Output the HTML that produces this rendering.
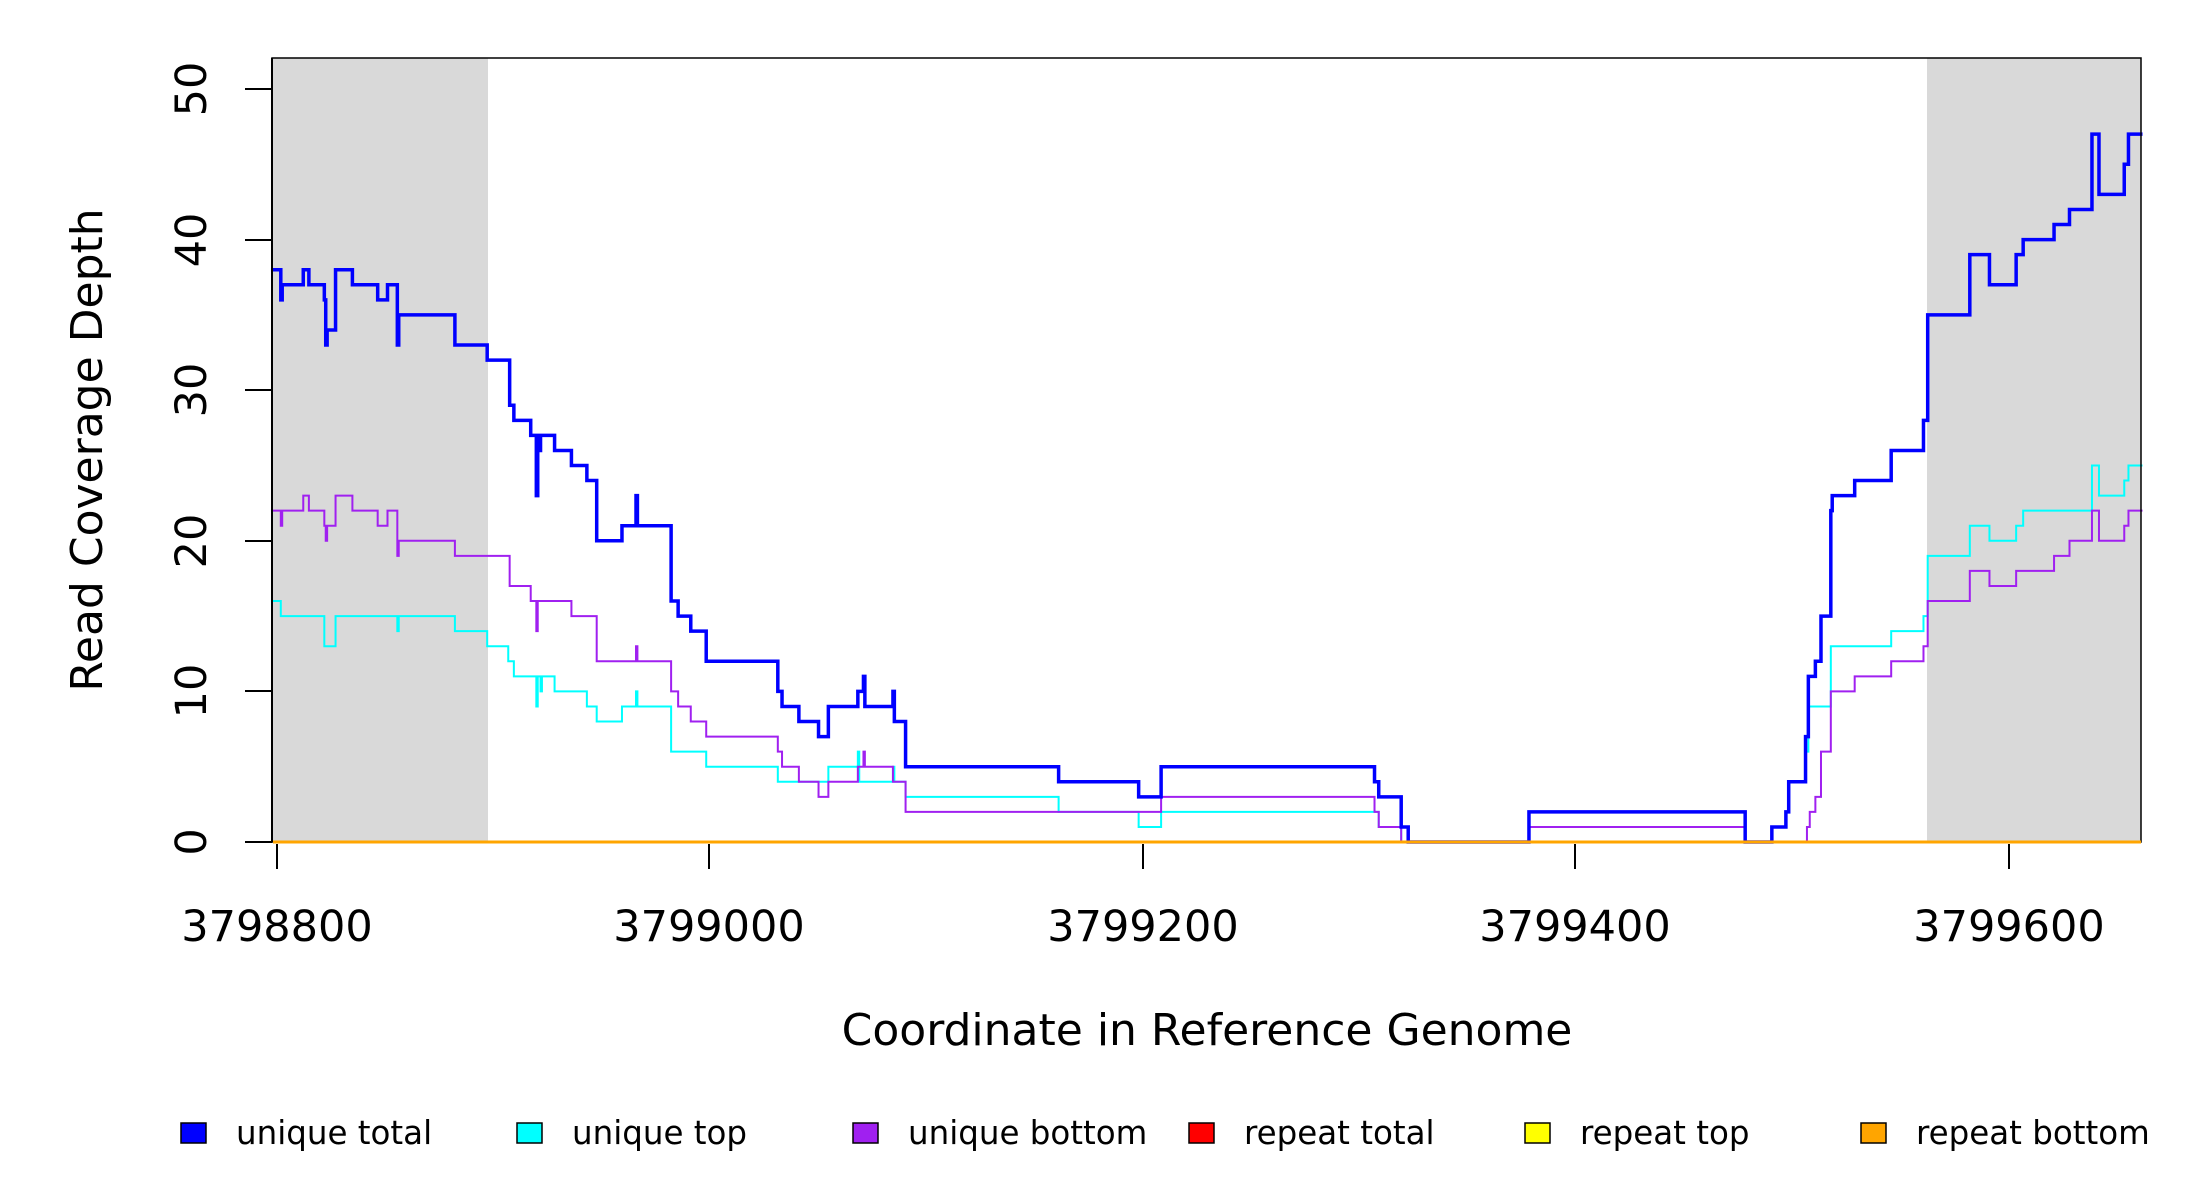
<!DOCTYPE html>
<html><head><meta charset="utf-8"><style>
html,body{margin:0;padding:0;background:#fff;}
svg{display:block;font-family:"DejaVu Sans","Liberation Sans",sans-serif;}
</style></head><body>
<svg width="2200" height="1200" viewBox="0 0 2200 1200" xmlns="http://www.w3.org/2000/svg">
<rect x="0" y="0" width="2200" height="1200" fill="#fff"/>
<rect x="272" y="58" width="216" height="784" fill="#d9d9d9"/>
<rect x="1927" y="58" width="214" height="784" fill="#d9d9d9"/>
<g transform="matrix(1.404,0,0,-15.06,0,842)" fill="none" stroke-linejoin="miter">
<polyline vector-effect="non-scaling-stroke" stroke="#00ffff" stroke-width="2" points="193,16 200,16 200,15 231,15 231,13 239,13 239,15 283,15 283,14 284,14 284,15 324,15 324,14 347,14 347,13 362,13 362,12 366,12 366,11 382,11 382,9 383,9 383,11 385,11 385,10 386,10 386,11 395,11 395,10 418,10 418,9 425,9 425,8 443,8 443,9 453,9 453,10 454,10 454,9 478,9 478,6 503,6 503,5 554,5 554,4 590,4 590,5 611,5 611,6 612,6 612,4 636,4 636,5 637,5 637,4 645,4 645,3 754,3 754,2 811,2 811,1 827,1 827,2 979,2 979,2 982,2 982,1 998,1 998,0 1262,0 1262,1 1272,1 1272,2 1274,2 1274,4 1286,4 1286,6 1288,6 1288,9 1304,9 1304,13 1347,13 1347,14 1370,14 1370,15 1373,15 1373,19 1403,19 1403,21 1417,21 1417,20 1436,20 1436,21 1441,21 1441,22 1490,22 1490,25 1495,25 1495,23 1513,23 1513,24 1516,24 1516,25 1526,25"/>
<polyline vector-effect="non-scaling-stroke" stroke="#a020f0" stroke-width="2" points="193,22 200,22 200,21 201,21 201,22 216,22 216,23 220,23 220,22 231,22 231,21 232,21 232,20 233,20 233,21 239,21 239,23 251,23 251,22 269,22 269,21 276,21 276,22 283,22 283,19 284,19 284,20 324,20 324,19 363,19 363,17 378,17 378,16 382,16 382,14 383,14 383,16 407,16 407,15 425,15 425,12 453,12 453,13 454,13 454,12 478,12 478,10 483,10 483,9 492,9 492,8 503,8 503,7 554,7 554,6 557,6 557,5 569,5 569,4 583,4 583,3 590,3 590,4 611,4 611,5 615,5 615,6 616,6 616,5 636,5 636,4 645,4 645,2 827,2 827,3 979,3 979,2 982,2 982,1 998,1 998,0 1089,0 1089,1 1243,1 1243,0 1287,0 1287,1 1289,1 1289,2 1293,2 1293,3 1297,3 1297,6 1304,6 1304,10 1321,10 1321,11 1347,11 1347,12 1370,12 1370,13 1373,13 1373,16 1403,16 1403,18 1417,18 1417,17 1436,17 1436,18 1463,18 1463,19 1474,19 1474,20 1490,20 1490,22 1495,22 1495,20 1513,20 1513,21 1516,21 1516,22 1526,22"/>
<polyline vector-effect="non-scaling-stroke" stroke="#0000ff" stroke-width="3.5" points="193,38 200,38 200,36 201,36 201,37 216,37 216,38 220,38 220,37 231,37 231,36 232,36 232,33 233,33 233,34 239,34 239,38 251,38 251,37 269,37 269,36 276,36 276,37 283,37 283,33 284,33 284,35 324,35 324,33 347,33 347,32 363,32 363,29 366,29 366,28 378,28 378,27 382,27 382,23 383,23 383,27 384,27 384,26 385,26 385,27 395,27 395,26 407,26 407,25 418,25 418,24 425,24 425,20 443,20 443,21 453,21 453,23 454,23 454,21 478,21 478,16 483,16 483,15 492,15 492,14 503,14 503,12 554,12 554,10 557,10 557,9 569,9 569,8 583,8 583,7 590,7 590,9 611,9 611,10 615,10 615,11 616,11 616,9 636,9 636,10 637,10 637,8 645,8 645,5 754,5 754,4 811,4 811,3 827,3 827,5 979,5 979,4 982,4 982,3 998,3 998,1 1003,1 1003,0 1089,0 1089,2 1243,2 1243,0 1262,0 1262,1 1272,1 1272,2 1274,2 1274,4 1286,4 1286,7 1288,7 1288,11 1293,11 1293,12 1297,12 1297,15 1304,15 1304,22 1305,22 1305,23 1321,23 1321,24 1347,24 1347,26 1370,26 1370,28 1373,28 1373,35 1403,35 1403,39 1417,39 1417,37 1436,37 1436,39 1441,39 1441,40 1463,40 1463,41 1474,41 1474,42 1490,42 1490,47 1495,47 1495,43 1513,43 1513,45 1516,45 1516,47 1526,47"/>
</g>
<rect x="272" y="58" width="1869" height="784" fill="none" stroke="#000" stroke-width="1.5"/>
<line x1="273" y1="842" x2="2141" y2="842" stroke="#ffa500" stroke-width="3"/>
<g stroke="#000" stroke-width="2">
<line x1="272" y1="58" x2="272" y2="842"/>
<line x1="245" y1="842" x2="272" y2="842"/><line x1="245" y1="691" x2="272" y2="691"/><line x1="245" y1="541" x2="272" y2="541"/><line x1="245" y1="390" x2="272" y2="390"/><line x1="245" y1="240" x2="272" y2="240"/><line x1="245" y1="89" x2="272" y2="89"/>
<line x1="277" y1="844" x2="277" y2="869"/><line x1="709" y1="844" x2="709" y2="869"/><line x1="1143" y1="844" x2="1143" y2="869"/><line x1="1575" y1="844" x2="1575" y2="869"/><line x1="2009" y1="844" x2="2009" y2="869"/>
</g>
<g font-size="43" text-anchor="middle" fill="#000">
<text transform="translate(206,842) rotate(-90)">0</text>
<text transform="translate(206,691) rotate(-90)">10</text>
<text transform="translate(206,541) rotate(-90)">20</text>
<text transform="translate(206,390) rotate(-90)">30</text>
<text transform="translate(206,240) rotate(-90)">40</text>
<text transform="translate(206,89) rotate(-90)">50</text>
<text x="277" y="941">3798800</text>
<text x="709" y="941">3799000</text>
<text x="1143" y="941">3799200</text>
<text x="1575" y="941">3799400</text>
<text x="2009" y="941">3799600</text>
<text x="1207" y="1045" font-size="44">Coordinate in Reference Genome</text>
<text transform="translate(102,450) rotate(-90)" font-size="44">Read Coverage Depth</text>
</g>
<g font-size="32.5" fill="#000" stroke="none">
<rect x="181" y="1123" width="25" height="20" fill="#0000ff" stroke="#000" stroke-width="1.5"/>
<text x="236" y="1144">unique total</text>
<rect x="517" y="1123" width="25" height="20" fill="#00ffff" stroke="#000" stroke-width="1.5"/>
<text x="572" y="1144">unique top</text>
<rect x="853" y="1123" width="25" height="20" fill="#a020f0" stroke="#000" stroke-width="1.5"/>
<text x="908" y="1144">unique bottom</text>
<rect x="1189" y="1123" width="25" height="20" fill="#ff0000" stroke="#000" stroke-width="1.5"/>
<text x="1244" y="1144">repeat total</text>
<rect x="1525" y="1123" width="25" height="20" fill="#ffff00" stroke="#000" stroke-width="1.5"/>
<text x="1580" y="1144">repeat top</text>
<rect x="1861" y="1123" width="25" height="20" fill="#ffa500" stroke="#000" stroke-width="1.5"/>
<text x="1916" y="1144">repeat bottom</text>
</g>
</svg>
</body></html>
